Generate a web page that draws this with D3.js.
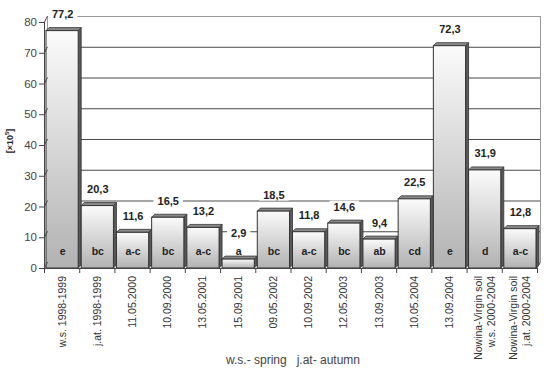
<!DOCTYPE html>
<html><head><meta charset="utf-8">
<script src="https://cdn.jsdelivr.net/npm/d3@7"></script>
<style>body{margin:0;background:#fff}svg{display:block;font-family:"Liberation Sans",Arial,sans-serif}</style>
</head><body><svg id="c" width="550" height="382"></svg>
<script>
const categories = [["w.s. 1998-1999"],["j.at. 1998-1999"],["11.05.2000"],["10.09.2000"],["13.05.2001"],["15.09.2001"],["09.05.2002"],["10.09.2002"],["12.05.2003"],["13.09.2003"],["10.05.2004"],["13.09.2004"],["Nowina-Virgin soil","w.s. 2000-2004"],["Nowina-Virgin soil","j.at. 2000-2004"]];
const values = [77.2,20.3,11.6,16.5,13.2,2.9,18.5,11.8,14.6,9.4,22.5,72.3,31.9,12.8];
const letters = ["e","bc","a-c","bc","a-c","a","bc","a-c","bc","ab","cd","e","d","a-c"];
const yTicks = [0,10,20,30,40,50,60,70,80];
const valueLabels = values.map(v => v.toFixed(1).replace(".", ","));

const svg = d3.select("#c");
const ids = categories.map((c,i)=>i);
const x = d3.scaleBand().domain(ids).range([44,537]).padding(0);
const y = d3.scaleLinear().domain([0,80]).range([268,22]);
const DX = 3, DY = -6;

const defs = svg.append("defs");
const g = defs.append("linearGradient").attr("id","bg").attr("x1",0).attr("y1",0).attr("x2",0).attr("y2",1);
g.append("stop").attr("offset","0%").attr("stop-color","#fbfbfb");
g.append("stop").attr("offset","100%").attr("stop-color","#b2b2b2");

// walls / gridlines
const grid = svg.append("g").attr("stroke","#4a4a4a").attr("stroke-width",1).attr("fill","none");
yTicks.filter(v=>v>0).forEach(v=>{
  grid.append("line").attr("x1",44+DX).attr("x2",540).attr("y1",y(v)+DY+0.5).attr("y2",y(v)+DY+0.5).attr("stroke",v===80?"#999":"#4a4a4a");
});
grid.append("line").attr("x1",540.5).attr("x2",540.5).attr("y1",y(80)+DY).attr("y2",y(0)+DY).attr("stroke","#999");
grid.append("line").attr("x1",540.5).attr("y1",y(0)+DY).attr("x2",537).attr("y2",y(0)).attr("stroke","#666");
grid.append("line").attr("x1",47.5).attr("x2",47.5).attr("y1",y(80)+DY).attr("y2",y(0)+DY).attr("stroke","#999");

// bars
const bars = svg.append("g");
values.forEach((v,i)=>{
  const x0 = x(i)+2, x1 = x(i)+x.bandwidth()-1, yt = y(v), yb = y(0);
  const d = 3;
  bars.append("path").attr("d",`M${x1},${yt}L${x1+d},${yt-d}L${x1+d},${yb-d}L${x1},${yb}Z`).attr("fill","#5a5a5a").attr("stroke","#333").attr("stroke-width",0.8);
  bars.append("path").attr("d",`M${x0},${yt}L${x0+d},${yt-d}L${x1+d},${yt-d}L${x1},${yt}Z`).attr("fill","#8a8a8a").attr("stroke","#333").attr("stroke-width",0.8);
  bars.append("rect").attr("x",x0).attr("y",yt).attr("width",x1-x0).attr("height",yb-yt).attr("fill","url(#bg)").attr("stroke","#333").attr("stroke-width",1);
});

// axes
const ax = svg.append("g").attr("stroke","#444").attr("fill","none");
ax.append("line").attr("x1",44.5).attr("x2",44.5).attr("y1",y(80)).attr("y2",y(0));
ax.append("line").attr("x1",44).attr("x2",537).attr("y1",y(0)+0.5).attr("y2",y(0)+0.5);
yTicks.forEach(v=>{
  ax.append("line").attr("x1",39).attr("x2",44.5).attr("y1",y(v)+0.5).attr("y2",y(v)+0.5);
  ax.append("line").attr("x1",44.5).attr("x2",47.5).attr("y1",y(v)).attr("y2",y(v)+DY);
});
ids.concat([14]).forEach(i=>{
  const xx = i<14 ? x(i) : 537;
  ax.append("line").attr("x1",xx+0.5).attr("x2",xx+0.5).attr("y1",y(0)).attr("y2",y(0)+5);
});

svg.append("g").selectAll("text").data(yTicks).join("text")
  .attr("x",37).attr("y",v=>y(v)+4).attr("text-anchor","end")
  .attr("font-size",11.5).attr("fill","#444").text(v=>v);

// y axis title
const yt = svg.append("text").attr("transform","translate(13,141) rotate(-90)").attr("text-anchor","middle")
  .attr("font-size",9).attr("font-weight","bold").attr("fill","#222");
yt.append("tspan").text("[×10");
yt.append("tspan").attr("font-size",6).attr("dy",-4).text("5");
yt.append("tspan").attr("dy",4).text("]");

// value labels with white background (kept above the letter labels)
const vl = svg.append("g");
values.forEach((v,i)=>{
  const cx = x(i)+x.bandwidth()/2+1, by = Math.min(y(v)-12.5, 237);
  const t = vl.append("text").attr("x",cx).attr("y",by).attr("text-anchor","middle")
    .attr("font-size",11).attr("font-weight","bold").attr("fill","#222").text(valueLabels[i]);
  const bb = t.node().getBBox();
  vl.insert("rect","text:last-child").attr("x",bb.x-4).attr("y",bb.y).attr("width",bb.width+8).attr("height",bb.height).attr("fill","#fff");
});

// letter labels
svg.append("g").selectAll("text").data(letters).join("text")
  .attr("x",(d,i)=>x(i)+x.bandwidth()/2+1).attr("y",255).attr("text-anchor","middle")
  .attr("font-size",10.5).attr("font-weight","bold").attr("fill","#222").text(d=>d);

// x tick labels
const xl = svg.append("g");
categories.forEach((lines,i)=>{
  const cx = x(i)+x.bandwidth()/2;
  const n = lines.length;
  lines.forEach((s,k)=>{
    const off = (k-(n-1)/2)*13 + 4;
    xl.append("text").attr("transform",`translate(${cx+off},276) rotate(-90)`).attr("text-anchor","end")
      .attr("font-size",10.5).attr("fill","#333").text(s);
  });
});

svg.append("text").attr("x",293).attr("y",364).attr("text-anchor","middle").attr("font-size",12)
  .attr("fill","#444").attr("xml:space","preserve").style("white-space","pre").text("w.s.- spring   j.at- autumn");
</script></body></html>
